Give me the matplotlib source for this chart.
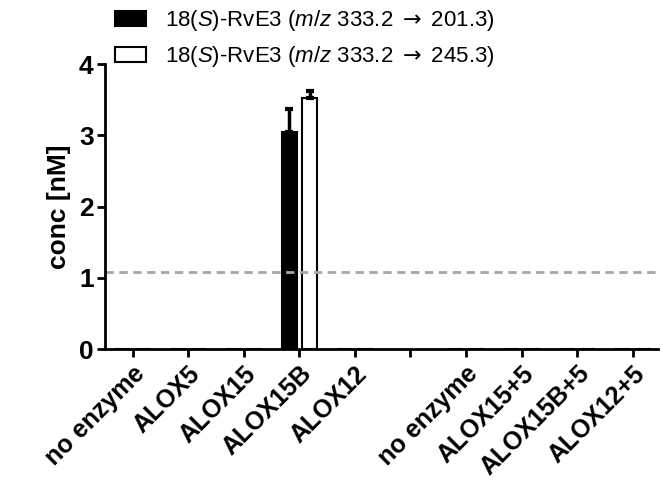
import numpy as np
import matplotlib
matplotlib.use("Agg")
import matplotlib.pyplot as plt

plt.rcParams['font.family'] = ['Liberation Sans', 'DejaVu Sans']
plt.rcParams['mathtext.fontset'] = 'custom'
plt.rcParams['mathtext.rm'] = 'Liberation Sans'
plt.rcParams['mathtext.it'] = 'Liberation Sans:italic'
plt.rcParams['mathtext.sf'] = 'DejaVu Sans'

categories = ["no enzyme", "ALOX5", "ALOX15", "ALOX15B", "ALOX12", "",
              "no enzyme", "ALOX15+5", "ALOX15B+5", "ALOX12+5"]
rve3_201 = [0, 0, 0, 3.05, 0, np.nan, 0, 0, 0, 0]
rve3_201_err = [0, 0, 0, 0.32, 0, 0, 0, 0, 0, 0]
rve3_245 = [0, 0, 0, 3.53, 0, np.nan, 0, 0, 0, 0]
rve3_245_err = [0, 0, 0, 0.09, 0, 0, 0, 0, 0, 0]
lloq = 1.08

fig = plt.figure(figsize=(6.63, 4.94), dpi=100)
ax = fig.add_axes([0.158, 0.2935, 0.834, 0.5765])

x = np.arange(len(categories))
w = 0.27
ax.bar(x - 0.18, rve3_201, w, color='black', edgecolor='black', linewidth=1.5,
       label=r"18($\it{S}$)-RvE3 ($\it{m/z}$ 333.2 $\mathsf{\rightarrow}$ 201.3)")
ax.bar(x + 0.19, rve3_245, w, color='white', edgecolor='black', linewidth=1.5,
       label=r"18($\it{S}$)-RvE3 ($\it{m/z}$ 333.2 $\mathsf{\rightarrow}$ 245.3)")
for xs, vals, errs in [(x - 0.18, rve3_201, rve3_201_err), (x + 0.19, rve3_245, rve3_245_err)]:
    for xi, v, e in zip(xs, vals, errs):
        if e > 0:
            ax.errorbar(xi, v, yerr=[[0], [e]], fmt='none', ecolor='black',
                        elinewidth=2.5, capsize=3, capthick=3)

ax.axhline(lloq, color='#a6a6a6', linestyle=(0, (3, 2)), linewidth=2)

ax.set_xlim(-0.5, 9.45)
ax.set_ylim(0, 4)
ax.set_yticks([0, 1, 2, 3, 4])
ax.set_xticks(x)
ax.set_xticklabels(categories, rotation=45, ha='right', rotation_mode='anchor',
                   fontsize=18, fontweight='bold')
for lab in ax.get_yticklabels():
    lab.set_fontsize(19)
    lab.set_fontweight('bold')
ax.set_ylabel("conc [nM]", fontsize=19, fontweight='bold', labelpad=6)

for s in ['top', 'right']:
    ax.spines[s].set_visible(False)
for s in ['left', 'bottom']:
    ax.spines[s].set_linewidth(2)
ax.tick_params(width=2, length=6)
ax.tick_params(axis='x', pad=3)
ax.tick_params(axis='y', pad=2)

fig.legend(loc='upper left', bbox_to_anchor=(115 / 663, 1 - 8 / 494), frameon=False,
           fontsize=16, handlelength=1.4, handleheight=0.68, handletextpad=0.85,
           labelspacing=0.5, borderpad=0, borderaxespad=0)

fig.savefig("out.png", dpi=100)
